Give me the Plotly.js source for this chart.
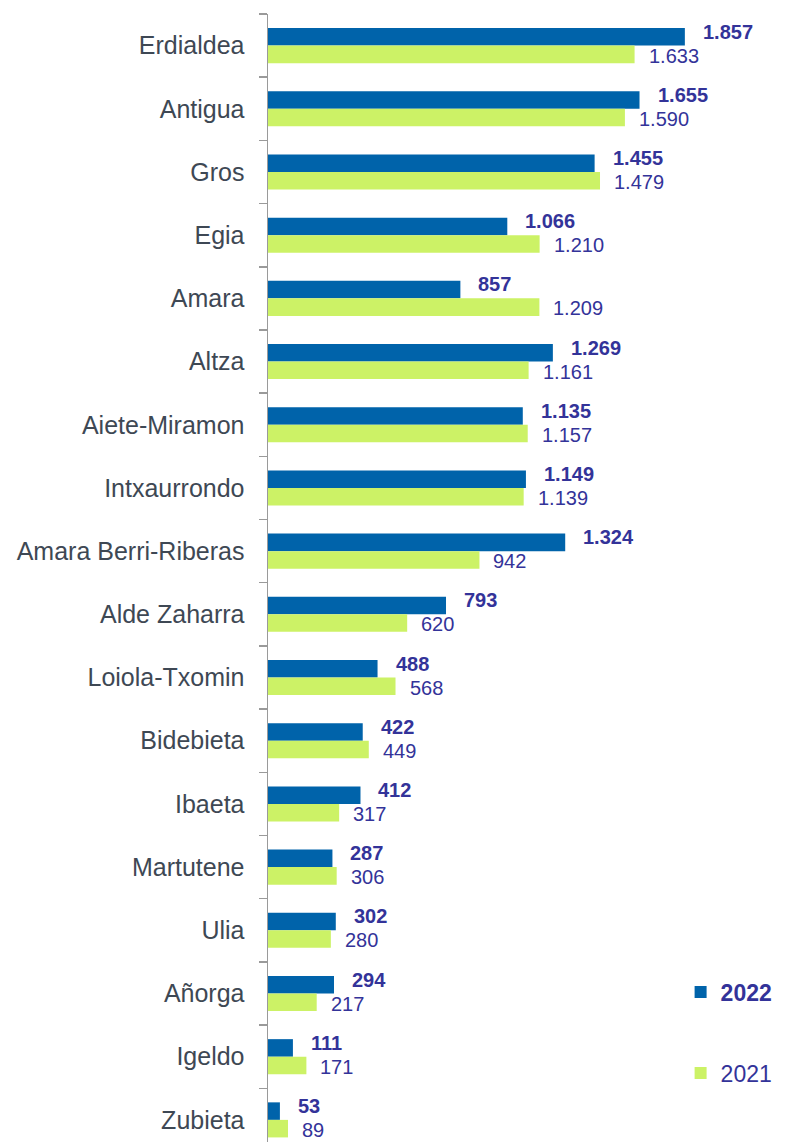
<!DOCTYPE html>
<html>
<head>
<meta charset="utf-8">
<script src="https://cdn.plot.ly/plotly-3.0.1.min.js"></script>
<style>
  html, body { margin: 0; padding: 0; background: #fff; }
  #chart { width: 787px; height: 1142px; }
</style>
</head>
<body>
<div id="chart"></div>
<script>
// barrios, top to bottom
var barrios = ['Erdialdea', 'Antigua', 'Gros', 'Egia', 'Amara', 'Altza', 'Aiete-Miramon',
  'Intxaurrondo', 'Amara Berri-Riberas', 'Alde Zaharra', 'Loiola-Txomin', 'Bidebieta',
  'Ibaeta', 'Martutene', 'Ulia', 'Añorga', 'Igeldo', 'Zubieta'];

var values2022 = [1857, 1655, 1455, 1066, 857, 1269, 1135, 1149, 1324, 793, 488, 422, 412, 287, 302, 294, 111, 53];
var values2021 = [1633, 1590, 1479, 1210, 1209, 1161, 1157, 1139, 942, 620, 568, 449, 317, 306, 280, 217, 171, 89];

// 1857 -> "1.857"
function fmt(v) {
  return String(v).replace(/\B(?=(\d{3})+(?!\d))/g, '.');
}

var labelColor = '#333399';
var font = "'Liberation Sans', Arial, sans-serif";

var trace2022 = {
  x: values2022,
  y: barrios,
  name: '<b>2022</b>',
  type: 'bar',
  orientation: 'h',
  legendgroup: 'a',
  marker: { color: '#0063aa' },
  hoverinfo: 'x'
};

var trace2021 = {
  x: values2021,
  y: barrios,
  name: '2021',
  type: 'bar',
  orientation: 'h',
  legendgroup: 'b',
  marker: { color: '#ccf266' },
  hoverinfo: 'x'
};

// value labels
var annotations = [];
barrios.forEach(function(b, i) {
  annotations.push({
    x: values2022[i], y: b, xref: 'x', yref: 'y',
    text: '<b>' + fmt(values2022[i]) + '</b>',
    showarrow: false, xanchor: 'left', yanchor: 'middle',
    xshift: 16, yshift: 14,
    font: { family: font, size: 20, color: labelColor }
  });
  annotations.push({
    x: values2021[i], y: b, xref: 'x', yref: 'y',
    text: fmt(values2021[i]),
    showarrow: false, xanchor: 'left', yanchor: 'middle',
    xshift: 12, yshift: -10,
    font: { family: font, size: 20, color: labelColor }
  });
});

var layout = {
  width: 787,
  height: 1142,
  margin: { l: 268, r: 0, t: 14, b: 0 },
  paper_bgcolor: '#fff',
  plot_bgcolor: '#fff',
  barmode: 'group',
  bargap: 0.445,
  bargroupgap: 0,
  showlegend: true,
  legend: {
    x: 0.795, xanchor: 'left',
    y: 0.152, yanchor: 'top',
    traceorder: 'grouped',
    tracegroupgap: 48,
    font: { family: font, size: 23, color: labelColor },
    bgcolor: 'rgba(0,0,0,0)'
  },
  xaxis: {
    range: [0, 2312],
    visible: false,
    fixedrange: true
  },
  yaxis: {
    type: 'category',
    range: [17.35, -0.5],
    tickson: 'boundaries',
    ticks: 'outside',
    ticklen: 8,
    tickwidth: 1.5,
    tickcolor: '#9a9a9a',
    showline: true,
    linecolor: '#9a9a9a',
    linewidth: 1.5,
    showgrid: false,
    zeroline: false,
    ticklabelstandoff: 17,
    tickfont: { family: font, size: 25, color: '#3e4854' },
    fixedrange: true
  },
  annotations: annotations
};

Plotly.newPlot('chart', [trace2022, trace2021], layout, { displayModeBar: false, staticPlot: true });
</script>
</body>
</html>
